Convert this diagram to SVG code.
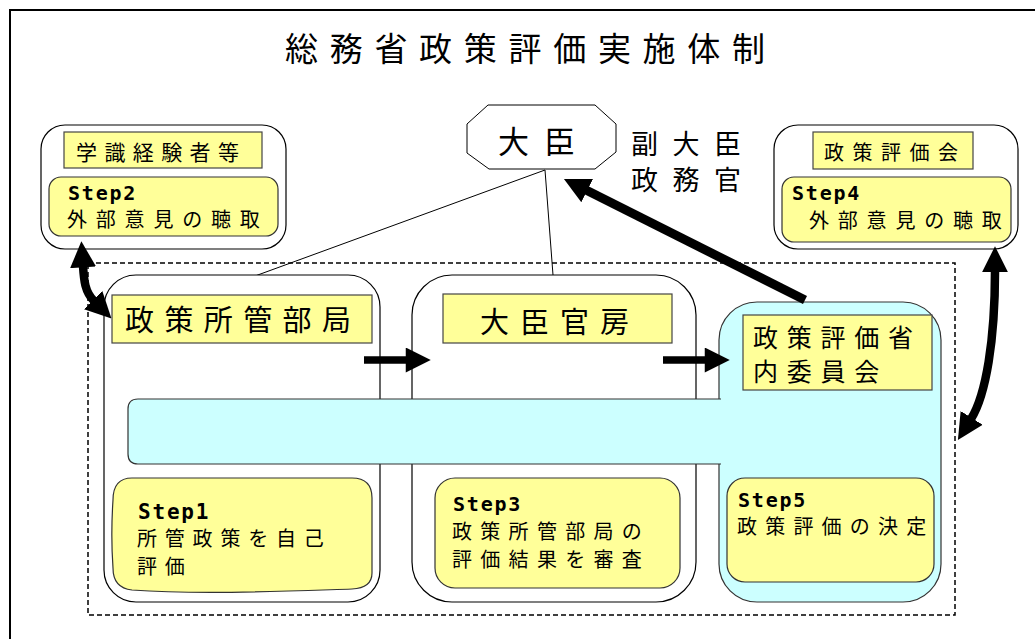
<svg xmlns="http://www.w3.org/2000/svg" width="1035" height="639" viewBox="0 0 1035 639">
<style>
text{font-family:"Noto Sans CJK JP","Noto Sans",sans-serif;fill:#000}
.step{font-family:"DejaVu Sans Mono","Liberation Mono",monospace;font-weight:bold;font-size:20px;letter-spacing:1.8px}
.lbl{fill:#FFFF99;stroke:#444;stroke-width:1.2}
.sbox{fill:#FFFF99;stroke:#333;stroke-width:1.2}
.grp{fill:#fff;stroke:#000;stroke-width:1.2}
.t20{font-size:20px;letter-spacing:8.3px}
.thick{fill:none;stroke:#000;stroke-width:8.5}
.thin{fill:none;stroke:#000;stroke-width:1}
</style>
<defs>
<marker id="ah" viewBox="0 0 10 10" refX="0.5" refY="5" markerUnits="userSpaceOnUse" markerWidth="26" markerHeight="28" orient="auto-start-reverse">
<path d="M0,0 L10,5 L0,10 Z" fill="#000"/>
</marker>
<marker id="ahs" viewBox="0 0 10 10" refX="0.5" refY="5" markerUnits="userSpaceOnUse" markerWidth="30" markerHeight="25" orient="auto">
<path d="M0,0 L10,5 L0,10 Z" fill="#000"/>
</marker>
</defs>
<rect width="1035" height="639" fill="#fff"/>
<g id="frame">
<path d="M10,639 L10,10 L1035,10" fill="none" stroke="#000" stroke-width="2"/>
</g>
<g id="title">
<text x="285" y="61" style="font-size:33px;letter-spacing:11.7px">総務省政策評価実施体制</text>
</g>
<rect id="scope" x="88" y="263" width="867" height="352" fill="none" stroke="#000" stroke-width="1.5" stroke-dasharray="5,3"/>
<g id="connectors-thin">
<path class="thin" d="M545,170 L255,276"/>
<path class="thin" d="M545,170 L553,275"/>
</g>
<g id="minister">
<polygon points="467,124 488,105 595,105 616,124 616,152 595,169 489,169 467,153" fill="#fff" stroke="#000" stroke-width="1"/>
<text x="498" y="153" style="font-size:31px;letter-spacing:15px">大臣</text>
</g>
<g id="vice">
<text x="631" y="154" style="font-size:27px;letter-spacing:14.5px">副大臣</text>
<text x="631" y="190" style="font-size:27px;letter-spacing:14.5px">政務官</text>
</g>
<g id="experts">
<rect class="grp" x="41" y="125" width="245" height="124" rx="24"/>
<rect class="lbl" x="64" y="132" width="198" height="36"/>
<text x="76" y="160" style="font-size:21px;letter-spacing:7.4px">学識経験者等</text>
<rect class="sbox" x="49" y="177" width="229" height="59" rx="12"/>
<text class="step" x="68" y="200">Step2</text>
<text class="t20" x="67" y="227" style="letter-spacing:8.8px">外部意見の聴取</text>
</g>
<g id="council">
<rect class="grp" x="774" y="125" width="244" height="124" rx="24"/>
<rect class="lbl" x="813" y="132" width="160" height="37"/>
<text x="824" y="160" style="font-size:20px;letter-spacing:8.5px">政策評価会</text>
<rect class="sbox" x="782" y="177" width="229" height="65" rx="12"/>
<text class="step" x="792" y="200">Step4</text>
<text class="t20" x="809" y="228" style="letter-spacing:8.8px">外部意見の聴取</text>
</g>
<g id="bureau">
<rect class="grp" x="104" y="275" width="276" height="327" rx="32"/>
</g>
<g id="secretariat">
<rect class="grp" x="412" y="275" width="284" height="327" rx="40"/>
</g>
<g id="committee">
<rect x="719" y="302" width="222" height="300" rx="38" fill="#CCFFFF" stroke="#333" stroke-width="1.2"/>
</g>
<g id="band">
<path d="M721,399 L138,399 Q128,399 128,409 L128,454 Q128,464 138,464 L721,464" fill="#CCFFFF" stroke="#333" stroke-width="1.2"/>
</g>
<g id="bureau-content">
<rect class="lbl" x="112" y="295" width="260" height="48"/>
<text x="125" y="331" style="font-size:29px;letter-spacing:10.4px">政策所管部局</text>
<path class="sbox" d="M132,478 L352,478 Q372,478 372,498 L372,573 Q372,588 352,589 C290,591 200,595 132,590 Q113,588 113,568 C111,540 112,515 113,500 Q113,478 132,478 Z"/>
<text class="step" x="138" y="519" style="font-size:21px">Step1</text>
<text class="t20" x="137" y="546" style="letter-spacing:7.8px">所管政策を自己</text>
<text class="t20" x="137" y="574" style="letter-spacing:7.8px">評価</text>
</g>
<g id="secretariat-content">
<rect class="lbl" x="443" y="294" width="229" height="49"/>
<text x="480" y="333" style="font-size:29px;letter-spacing:11px">大臣官房</text>
<rect class="sbox" x="435" y="478" width="245" height="110" rx="20"/>
<text class="step" x="453" y="511">Step3</text>
<text class="t20" x="452" y="539">政策所管部局の</text>
<text class="t20" x="452" y="567">評価結果を審査</text>
</g>
<g id="committee-content">
<rect class="lbl" x="743" y="315" width="189" height="75"/>
<text x="753" y="347" style="font-size:25px;letter-spacing:8.75px">政策評価省</text>
<text x="753" y="381" style="font-size:25px;letter-spacing:8.75px">内委員会</text>
<rect class="sbox" x="727" y="478" width="207" height="104" rx="18"/>
<text class="step" x="738" y="507">Step5</text>
<text class="t20" x="737" y="534" style="letter-spacing:8.2px">政策評価の決定</text>
</g>
<g id="connectors">
<path class="thick" style="stroke-width:7.5" d="M364,360 L407,360" marker-end="url(#ahs)"/>
<path class="thick" style="stroke-width:7.5" d="M663,360 L706,360" marker-end="url(#ahs)"/>
<path class="thick" style="stroke-width:9" d="M805,300 L586,190" marker-end="url(#ah)"/>
<path class="thick" d="M83,266 C84,281 85,292 94,301" marker-start="url(#ah)" marker-end="url(#ah)"/>
<path class="thick" d="M995,271 C995,340 986,395 971,419" marker-start="url(#ah)" marker-end="url(#ah)"/>
</g>
</svg>
